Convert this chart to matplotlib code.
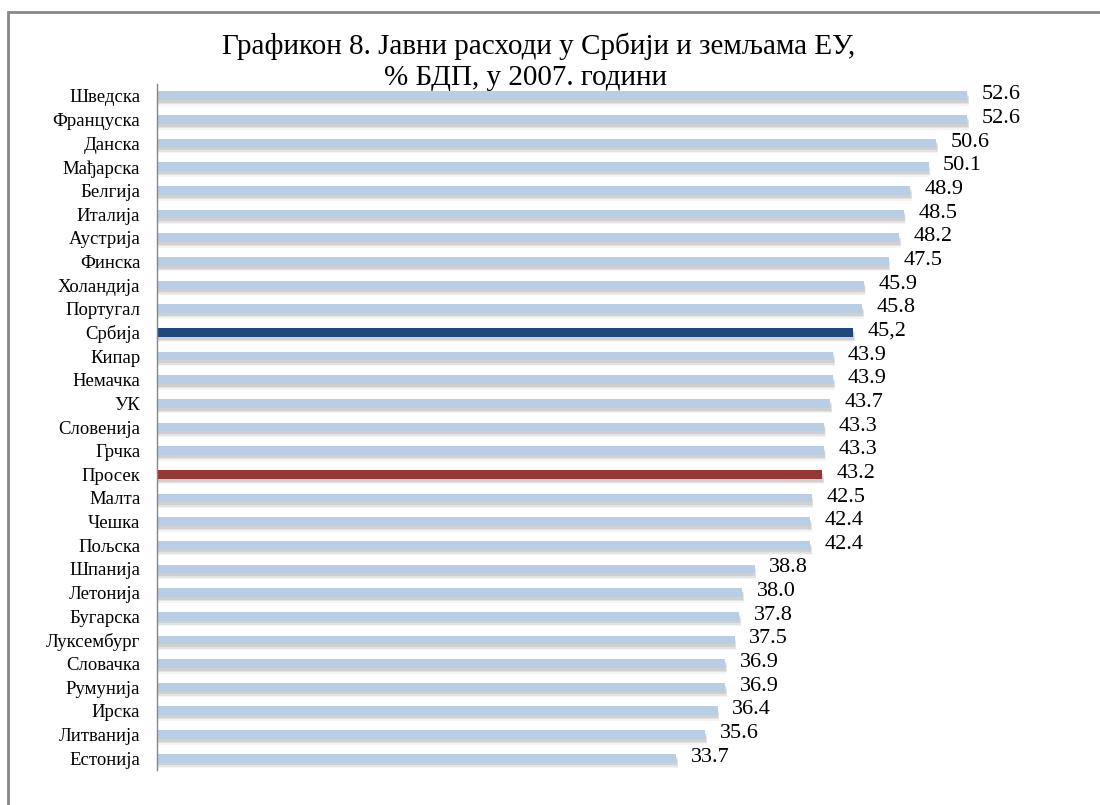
import matplotlib
matplotlib.use("Agg")
import matplotlib.pyplot as plt
from matplotlib.patches import Rectangle

countries = ["Шведска", "Француска", "Данска", "Мађарска", "Белгија", "Италија",
             "Аустрија", "Финска", "Холандија", "Португал", "Србија", "Кипар",
             "Немачка", "УК", "Словенија", "Грчка", "Просек", "Малта", "Чешка",
             "Пољска", "Шпанија", "Летонија", "Бугарска", "Луксембург",
             "Словачка", "Румунија", "Ирска", "Литванија", "Естонија"]
values = [52.6, 52.6, 50.6, 50.1, 48.9, 48.5, 48.2, 47.5, 45.9, 45.8, 45.2, 43.9,
          43.9, 43.7, 43.3, 43.3, 43.2, 42.5, 42.4, 42.4, 38.8, 38.0, 37.8, 37.5,
          36.9, 36.9, 36.4, 35.6, 33.7]

LIGHT = "#b9cde5"
SERBIA = "#1f497d"
AVG = "#953735"
FONT = "Liberation Serif"

colors = []
for c in countries:
    colors.append(SERBIA if c == "Србија" else AVG if c == "Просек" else LIGHT)

fig = plt.figure(figsize=(11, 8.05), dpi=100)
ax = fig.add_axes([157 / 1100, 1 - 770 / 805, (1081 - 157) / 1100, (770 - 84) / 805])

ypos = list(range(len(countries)))
bh = 0.37
# soft drop shadow under each bar
for dy, dx, a in [(0.24, 0.12, 0.07), (0.18, 0.1, 0.12), (0.12, 0.06, 0.16)]:
    ax.barh([y + dy for y in ypos], [v + dx for v in values], height=bh,
            color="#707070", alpha=a, linewidth=0, zorder=1)
ax.barh(ypos, values, height=bh, color=colors, linewidth=0, zorder=2)

for y, v, c in zip(ypos, values, countries):
    txt = f"{v:.1f}"
    if c == "Србија":
        txt = txt.replace(".", ",")
    ax.text(v + 0.95, y - 0.04, txt, va="center", ha="left", fontsize=16,
            family=FONT, color="black")

ax.set_xlim(0, 60)
ax.set_ylim(len(countries) - 0.5, -0.5)
ax.set_yticks(ypos)
ax.set_yticklabels(countries, family=FONT, fontsize=13.5)
ax.tick_params(axis="y", length=0, pad=12)
ax.set_xticks([])
for s in ["top", "right", "bottom"]:
    ax.spines[s].set_visible(False)
ax.spines["left"].set_color("#868686")
ax.spines["left"].set_linewidth(1)

fig.text(539 / 1100, 1 - 46 / 805, "Графикон 8. Јавни расходи у Србији и земљама ЕУ,",
         ha="center", va="center", fontsize=21, family=FONT)
fig.text(525 / 1100, 1 - 78 / 805, "% БДП, у 2007. години",
         ha="center", va="center", fontsize=21, family=FONT)

# outer frame (only top and left edges are inside the picture)
fig.patches.append(Rectangle((8 / 1100, -0.1), 1.2, 1.1 - 12 / 805,
                             transform=fig.transFigure, fill=False,
                             edgecolor="#888888", linewidth=2))

fig.savefig("out.png", dpi=100)
